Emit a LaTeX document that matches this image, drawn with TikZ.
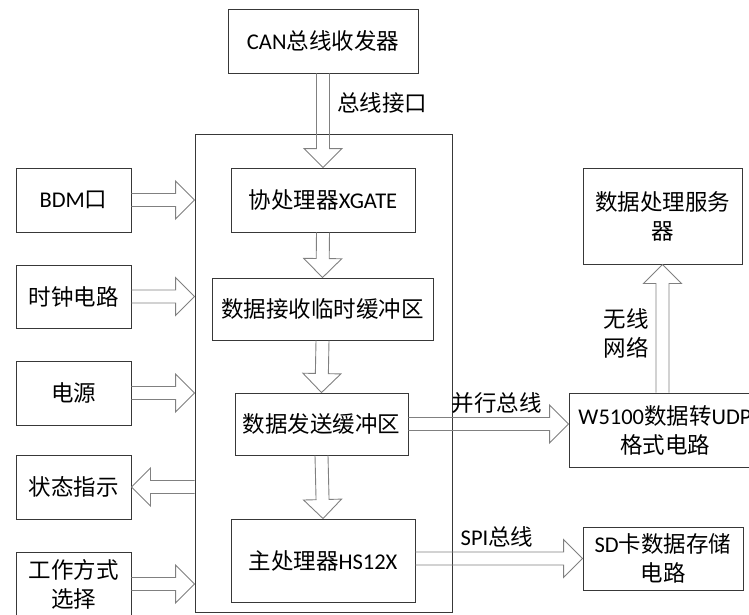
\documentclass[tikz,border=0pt]{standalone}
\usepackage{fontspec}
\setmainfont{Noto Sans CJK SC}
\newfontfamily\lat{Carlito}
\usetikzlibrary{calc}
\definecolor{boxcol}{gray}{0.22}
\definecolor{arrcol}{gray}{0.5}
\newcommand\blkarrow[2]{%
  \coordinate (bh) at ($(#2)!19pt!(#1)$);
  \draw[blk] ($(#1)!6.5pt!90:(#2)$) -- ($(bh)!6.5pt!90:(#2)$) -- ($(bh)!19pt!90:(#2)$) -- (#2)
     -- ($(bh)!19pt!-90:(#2)$) -- ($(bh)!6.5pt!-90:(#2)$) -- ($(#1)!6.5pt!-90:(#2)$);}
\begin{document}
\begin{tikzpicture}[x=1pt,y=-1pt,
  box/.style={draw=boxcol, line width=0.9pt, inner sep=0pt, align=center, font=\fontsize{22.5}{29}\selectfont},
  blk/.style={draw=arrcol, line width=0.9pt, line join=miter},
  lbl/.style={inner sep=0pt, align=center, font=\fontsize{22.5}{29}\selectfont}]
\useasboundingbox (0,0) rectangle (749,615);
% frame
\node[box, minimum width=257pt, minimum height=478pt] (big) at (323.5,373) {};
% inner chain
\node[box, minimum width=190pt, minimum height=64pt] (can) at (323,41) {{\lat CAN}总线收发器};
\node[box, minimum width=184pt, minimum height=64pt] (xgate) at (323,200) {协处理器{\lat XGATE}};
\node[box, minimum width=221pt, minimum height=62pt] (recv) at (322.5,309) {数据接收临时缓冲区};
\node[box, minimum width=173pt, minimum height=62pt] (send) at (321.5,424) {数据发送缓冲区};
\node[box, minimum width=184pt, minimum height=83pt] (main) at (323,560.5) {主处理器{\lat HS12X}};
% left column
\node[box, minimum width=115pt, minimum height=64pt] (bdm) at (73.5,200) {{\lat BDM}口};
\node[box, minimum width=115pt, minimum height=63pt] (clock) at (73.5,296.5) {时钟电路};
\node[box, minimum width=115pt, minimum height=64pt] (power) at (73.5,393) {电源};
\node[box, minimum width=115pt, minimum height=64pt] (status) at (73.5,487) {状态指示};
\node[box, minimum width=115pt, minimum height=64pt] (mode) at (73.5,584) {工作方式\\选择};
% right column
\node[box, minimum width=159pt, minimum height=96pt] (server) at (662.5,216) {数据处理服务\\器};
\node[box, minimum width=192pt, minimum height=74pt] (w5100) at (665,430) {{\lat W5100}数据转{\lat UDP}\\格式电路};
\node[box, minimum width=160pt, minimum height=63pt] (sd) at (663,558.5) {{\lat SD}卡数据存储\\电路};
% labels
\node[lbl, anchor=west] (busif) at (337,103) {总线接口};
\node[lbl] (par) at (496.5,403) {并行总线};
\node[lbl] (spi) at (497,537) {{\lat SPI}总线};
\node[lbl] (wl) at (626,333) {无线\\网络};
% helper coordinates
\coordinate (bdmin) at (big.west |- bdm.east);
\coordinate (clkin) at (big.west |- clock.east);
\coordinate (pwrin) at (big.west |- power.east);
\coordinate (stout) at (big.west |- status.east);
\coordinate (modin) at (big.west |- mode.east);
\coordinate (w5in) at (send.east -| w5100.west);
\coordinate (mainout) at (main.east |- sd.west);
\coordinate (w5out) at (w5100.north -| server.south);
% block arrows
\blkarrow{can.south}{xgate.north}
\blkarrow{xgate.south}{recv.north}
\blkarrow{recv.south}{send.north}
\blkarrow{send.south}{main.north}
\blkarrow{bdm.east}{bdmin}
\blkarrow{clock.east}{clkin}
\blkarrow{power.east}{pwrin}
\blkarrow{stout}{status.east}
\blkarrow{mode.east}{modin}
\blkarrow{send.east}{w5in}
\blkarrow{mainout}{sd.west}
\blkarrow{w5out}{server.south}
\end{tikzpicture}
\end{document}
